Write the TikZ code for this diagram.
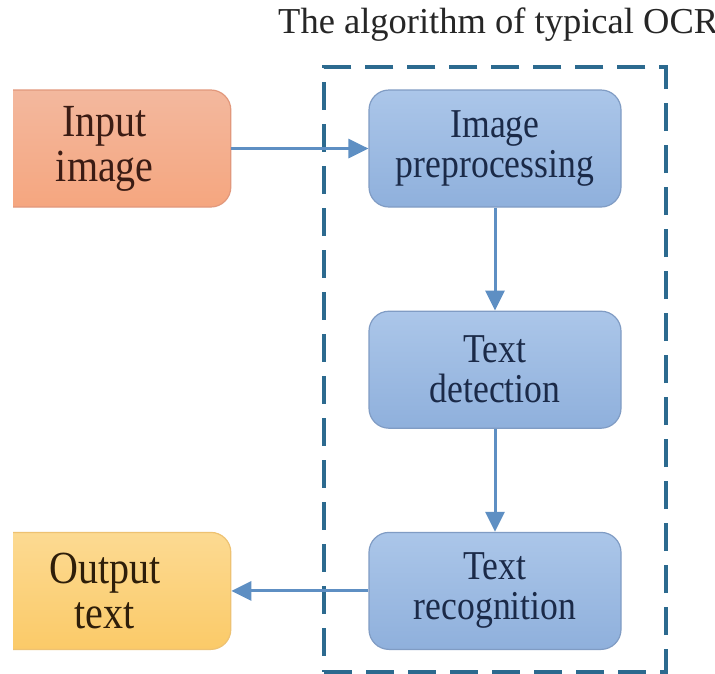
\documentclass[tikz,border=0pt]{standalone}
\usepackage{fontspec}
\setmainfont{Liberation Serif}
\newfontfamily\boxfont{Liberation Serif}[FakeStretch=0.87]
\usetikzlibrary{arrows.meta,positioning,fit}
\definecolor{stagetop}{HTML}{ABC6E9}
\definecolor{stagebot}{HTML}{8FB0DC}
\definecolor{stageedge}{HTML}{809CC4}
\definecolor{stagetext}{HTML}{1B2A48}
\definecolor{intop}{HTML}{F3B89E}
\definecolor{inbot}{HTML}{F5A67F}
\definecolor{inedge}{HTML}{E2987C}
\definecolor{intext}{HTML}{3B1C14}
\definecolor{outtop}{HTML}{FCDA92}
\definecolor{outbot}{HTML}{FBCA68}
\definecolor{outedge}{HTML}{EEC272}
\definecolor{outtext}{HTML}{2E1E0A}
\definecolor{flowcol}{HTML}{5E8FC3}
\definecolor{framecol}{HTML}{2C6A8F}

\begin{document}
\begin{tikzpicture}[x=1pt,y=-1pt,
    box/.style={rectangle,rounded corners=20pt,minimum width=252pt,minimum height=117pt,
      align=center,line width=1.2pt},
    stage/.style={box,draw=stageedge,top color=stagetop,bottom color=stagebot,text=stagetext,
      font=\boxfont\fontsize{41}{40}\selectfont},
    source/.style={box,draw=inedge,top color=intop,bottom color=inbot,text=intext,
      font=\boxfont\fontsize{46}{45}\selectfont},
    result/.style={box,draw=outedge,top color=outtop,bottom color=outbot,text=outtext,
      font=\boxfont\fontsize{46}{45}\selectfont},
    flow/.style={draw=flowcol,line width=3pt,-{Triangle[length=20pt,width=19pt]}},
    frame/.style={draw=framecol,line width=4pt,dash pattern=on 28pt off 14pt,
      inner xsep=44pt,inner ysep=22pt}]
  \useasboundingbox[fill=white] (0,0) rectangle (715,673);

  % the three OCR stages
  \node[stage] (prep) at (495,148.5) {Image\\preprocessing};
  \node[stage,below=103pt of prep] (det) {Text\\detection};
  \node[stage,below=103pt of det] (rec) {Text\\recognition};

  % input and output, cut at the left
  \begin{scope}
    \clip (13,0) rectangle (715,673);
    \node[source,left=137pt of prep] (inp) {Input\\image};
    \node[result,left=137pt of rec] (out) {Output\\text};
  \end{scope}

  \node[frame,fit=(prep)(rec)] (ocr) {};
  \node[anchor=base west,inner sep=0pt,text=black!85,font=\fontsize{36.5}{40}\selectfont]
    (title) at (278,33) {The algorithm of typical OCR};

  \draw[flow] (inp) -- (prep);
  \draw[flow] (prep) -- (det);
  \draw[flow] (det) -- (rec);
  \draw[flow] (rec) -- (out);
\end{tikzpicture}
\end{document}
